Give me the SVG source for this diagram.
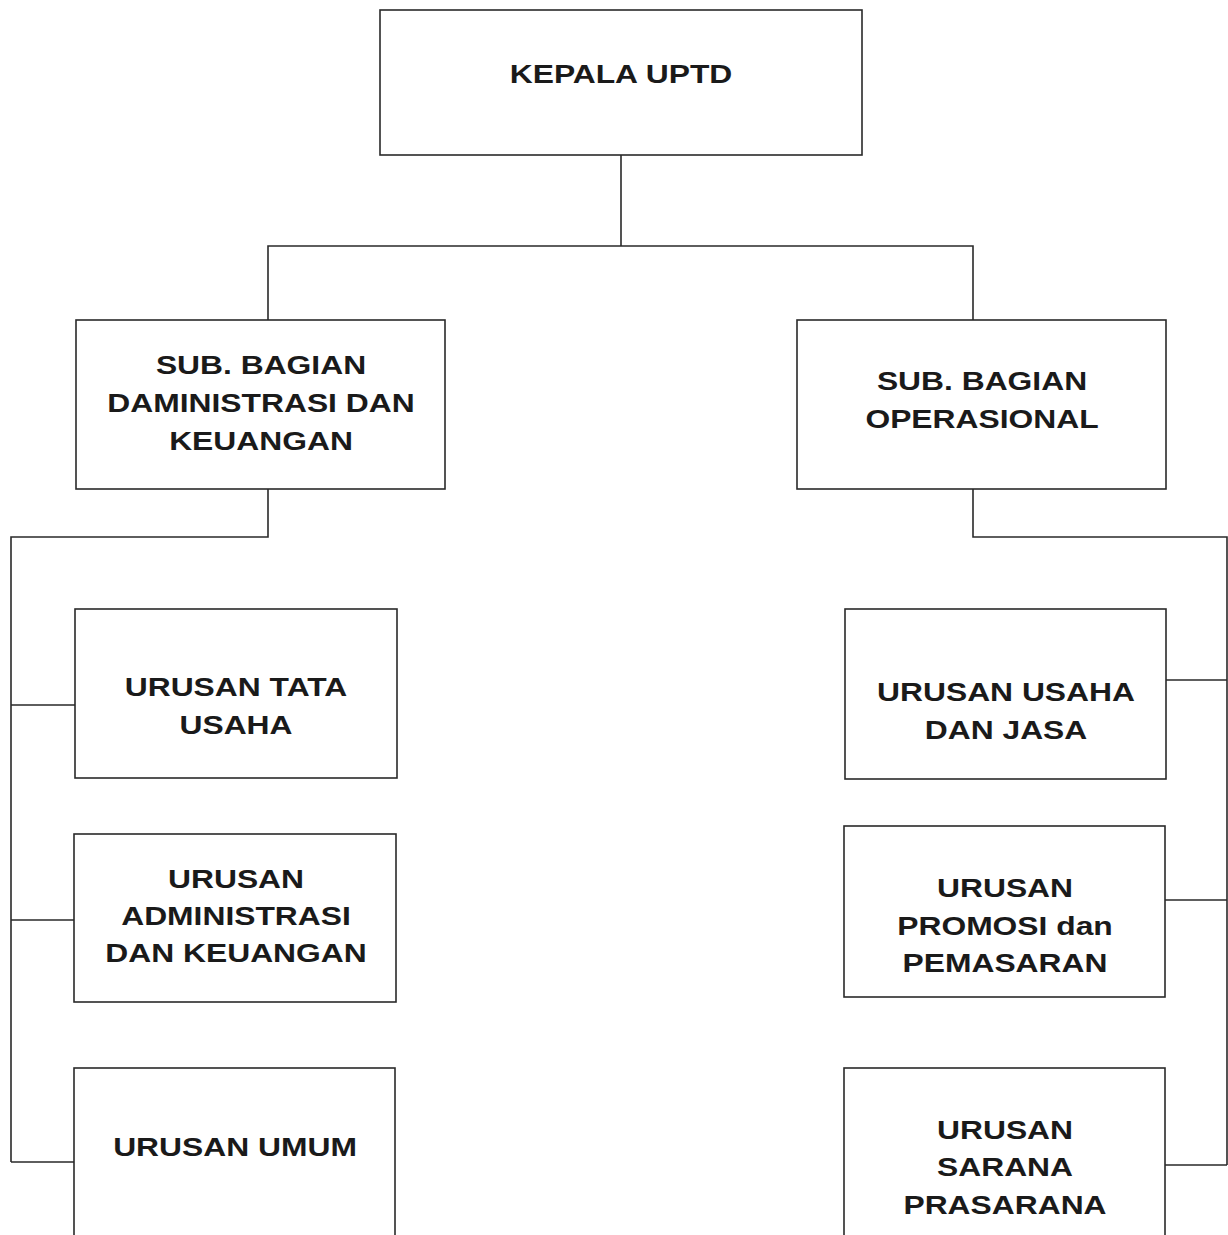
<svg xmlns="http://www.w3.org/2000/svg" width="1228" height="1235" viewBox="0 0 1228 1235">
<style>
.box{fill:#ffffff;stroke:#2a2a2a;stroke-width:1.6}
.ln{fill:none;stroke:#2a2a2a;stroke-width:1.6}
text{font-family:"Liberation Sans",Arial,sans-serif;font-weight:bold;font-size:26.5px;fill:#1a1a1a;text-anchor:middle}
</style>
<rect width="1228" height="1235" fill="#ffffff"/>
<g id="connectors">
<path class="ln" d="M621 155V246M268 320V246H973V320"/>
<path class="ln" d="M268 489V537H11V1162M11 705H75M11 920H74M11 1162H74"/>
<path class="ln" d="M973 489V537H1227V1165M1166 680H1227M1165 900H1227M1165 1165H1227"/>
</g>
<g id="kepala">
<rect class="box" x="380" y="10" width="482" height="145"/>
<text transform="translate(621 83) scale(1.2 1)">KEPALA UPTD</text>
</g>
<g id="sub-adm">
<rect class="box" x="76" y="320" width="369" height="169"/>
<text transform="translate(261 374) scale(1.2 1)">SUB. BAGIAN</text>
<text transform="translate(261 412) scale(1.2 1)">DAMINISTRASI DAN</text>
<text transform="translate(261 450) scale(1.2 1)">KEUANGAN</text>
</g>
<g id="sub-ops">
<rect class="box" x="797" y="320" width="369" height="169"/>
<text transform="translate(982 390) scale(1.2 1)">SUB. BAGIAN</text>
<text transform="translate(982 428) scale(1.2 1)">OPERASIONAL</text>
</g>
<g id="tata-usaha">
<rect class="box" x="75" y="609" width="322" height="169"/>
<text transform="translate(236 696) scale(1.2 1)">URUSAN TATA</text>
<text transform="translate(236 734) scale(1.2 1)">USAHA</text>
</g>
<g id="adm-keu">
<rect class="box" x="74" y="834" width="322" height="168"/>
<text transform="translate(236 888) scale(1.2 1)">URUSAN</text>
<text transform="translate(236 925) scale(1.2 1)">ADMINISTRASI</text>
<text transform="translate(236 962) scale(1.2 1)">DAN KEUANGAN</text>
</g>
<g id="umum">
<rect class="box" x="74" y="1068" width="321" height="180"/>
<text transform="translate(235 1156) scale(1.2 1)">URUSAN UMUM</text>
</g>
<g id="usaha-jasa">
<rect class="box" x="845" y="609" width="321" height="170"/>
<text transform="translate(1006 701) scale(1.2 1)">URUSAN USAHA</text>
<text transform="translate(1006 739) scale(1.2 1)">DAN JASA</text>
</g>
<g id="promosi">
<rect class="box" x="844" y="826" width="321" height="171"/>
<text transform="translate(1005 897) scale(1.2 1)">URUSAN</text>
<text transform="translate(1005 935) scale(1.2 1)">PROMOSI dan</text>
<text transform="translate(1005 972) scale(1.2 1)">PEMASARAN</text>
</g>
<g id="sarana">
<rect class="box" x="844" y="1068" width="321" height="180"/>
<text transform="translate(1005 1139) scale(1.2 1)">URUSAN</text>
<text transform="translate(1005 1176) scale(1.2 1)">SARANA</text>
<text transform="translate(1005 1214) scale(1.2 1)">PRASARANA</text>
</g>
</svg>
